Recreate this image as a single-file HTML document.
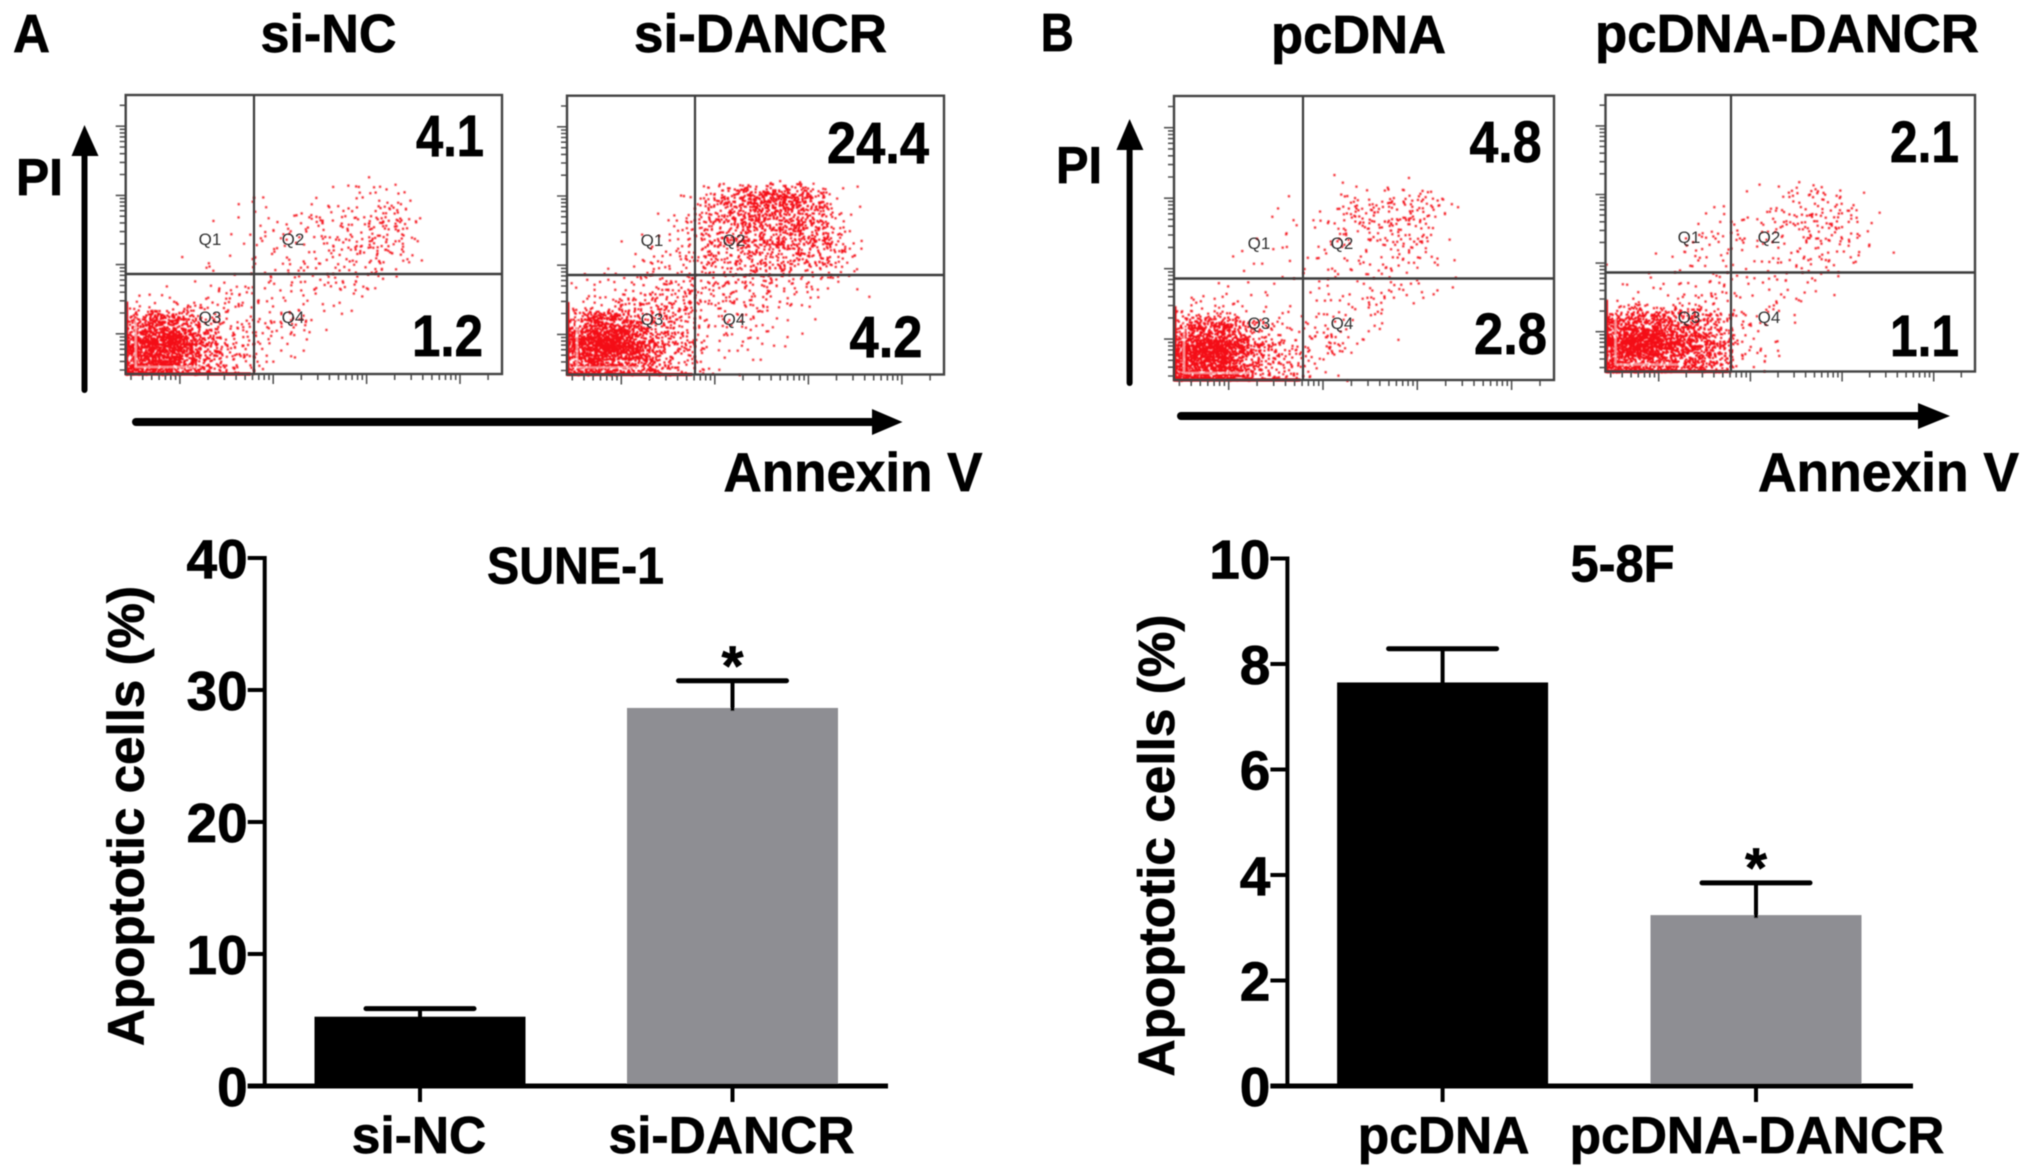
<!DOCTYPE html>
<html lang="en">
<head>
<meta charset="utf-8">
<title>Apoptosis flow cytometry and bar charts</title>
<style>
html,body{margin:0;padding:0;background:#fff;}
svg{display:block;}
text{font-family:"Liberation Sans",Arial,sans-serif;font-weight:bold;fill:#000;stroke:#000;stroke-width:0.7px;}
.q{font-weight:normal;fill:#333;stroke:none;font-size:17px;text-anchor:middle;}
</style>
</head>
<body>
<svg id="fig" xmlns="http://www.w3.org/2000/svg" width="2031" height="1175" viewBox="0 0 2031 1175">
<defs>
<filter id="soft" filterUnits="userSpaceOnUse" x="0" y="0" width="2031" height="1175"><feGaussianBlur stdDeviation="0.6"/></filter>
<filter id="softDots" filterUnits="userSpaceOnUse" x="0" y="0" width="2031" height="1175"><feGaussianBlur stdDeviation="0.8"/></filter>
</defs>
<rect width="2031" height="1175" fill="#fff"/>
<g id="dots" filter="url(#softDots)"></g>
<g id="root" filter="url(#soft)">
<g id="flowFrames"></g>
<g id="bars"></g>

<text x="13" y="52" font-size="54" textLength="37" lengthAdjust="spacingAndGlyphs">A</text>
<text x="260.5" y="52" font-size="54" textLength="136" lengthAdjust="spacingAndGlyphs">si-NC</text>
<text x="634" y="52" font-size="54" textLength="253" lengthAdjust="spacingAndGlyphs">si-DANCR</text>
<text x="16" y="195" font-size="52" textLength="47" lengthAdjust="spacingAndGlyphs">PI</text>
<text x="723.5" y="491" font-size="55" textLength="259" lengthAdjust="spacingAndGlyphs">Annexin V</text>
<text x="416" y="156" font-size="58" textLength="68" lengthAdjust="spacingAndGlyphs">4.1</text>
<text x="412" y="356" font-size="58" textLength="71" lengthAdjust="spacingAndGlyphs">1.2</text>
<text x="827" y="163" font-size="58" textLength="102" lengthAdjust="spacingAndGlyphs">24.4</text>
<text x="849.5" y="357" font-size="58" textLength="73" lengthAdjust="spacingAndGlyphs">4.2</text>

<text x="1040.8" y="51" font-size="54" textLength="33" lengthAdjust="spacingAndGlyphs">B</text>
<text x="1271" y="53" font-size="54" textLength="175" lengthAdjust="spacingAndGlyphs">pcDNA</text>
<text x="1595" y="52" font-size="54" textLength="384" lengthAdjust="spacingAndGlyphs">pcDNA-DANCR</text>
<text x="1056" y="183" font-size="52" textLength="46" lengthAdjust="spacingAndGlyphs">PI</text>
<text x="1758" y="491" font-size="55" textLength="261" lengthAdjust="spacingAndGlyphs">Annexin V</text>
<text x="1469.5" y="162" font-size="58" textLength="72" lengthAdjust="spacingAndGlyphs">4.8</text>
<text x="1474" y="354" font-size="58" textLength="73" lengthAdjust="spacingAndGlyphs">2.8</text>
<text x="1890" y="162" font-size="58" textLength="69" lengthAdjust="spacingAndGlyphs">2.1</text>
<text x="1890" y="356" font-size="58" textLength="69" lengthAdjust="spacingAndGlyphs">1.1</text>

<g><line x1="84.5" y1="390" x2="84.5" y2="150" stroke="#000" stroke-width="6" stroke-linecap="round"/><polygon points="84.5,125 71.5,156 98.5,156" fill="#000"/></g>
<g><line x1="136" y1="422" x2="876" y2="422" stroke="#000" stroke-width="8" stroke-linecap="round"/><polygon points="902.5,422 872,409 872,435" fill="#000"/></g>
<g><line x1="1129.6" y1="383" x2="1129.6" y2="145" stroke="#000" stroke-width="6" stroke-linecap="round"/><polygon points="1129.6,119 1116.4,150 1143.4,150" fill="#000"/></g>
<g><line x1="1181" y1="416" x2="1922" y2="416" stroke="#000" stroke-width="8" stroke-linecap="round"/><polygon points="1950,416 1918,403 1918,429" fill="#000"/></g>

<text x="487" y="583.6" font-size="52" textLength="177" lengthAdjust="spacingAndGlyphs">SUNE-1</text>
<text x="1570.5" y="581.5" font-size="52" textLength="104" lengthAdjust="spacingAndGlyphs">5-8F</text>
<text transform="translate(143.5,1046) rotate(-90)" font-size="51" textLength="460" lengthAdjust="spacingAndGlyphs">Apoptotic cells (%)</text>
<text transform="translate(1174,1076.5) rotate(-90)" font-size="51" textLength="462" lengthAdjust="spacingAndGlyphs">Apoptotic cells (%)</text>
</g>
</svg>
<script>
// --- Bar chart data ---
const sune1Categories = ["si-NC", "si-DANCR"];
const sune1Values = [5.25, 28.64];
const sune1ErrorTops = [5.86, 30.7];
const sune1Stars = ["", "*"];
const sune1YTicks = [0, 10, 20, 30, 40];

const f58Categories = ["pcDNA", "pcDNA-DANCR"];
const f58Values = [7.65, 3.24];
const f58ErrorTops = [8.29, 3.85];
const f58Stars = ["", "*"];
const f58YTicks = [0, 2, 4, 6, 8, 10];

// --- Flow cytometry data: estimated event counts per bin ---
// Each row is a PI bin (0.3 decade, lowest first); each column an Annexin V bin (0.2 decade).
const siNcCounts = [
  [130,170,170,90,35,25,15,3,2,0,0,0,0,0,0,0],
  [170,220,220,130,55,25,15,8,4,2,0,0,0,0,0,0],
  [60,110,110,50,18,12,12,12,10,14,1,0,0,0,0,0],
  [2,5,7,7,6,9,9,4,5,5,5,4,1,0,0,0],
  [0,0,1,1,2,5,6,4,4,6,6,7,6,5,1,0],
  [0,0,0,1,3,1,2,4,7,7,8,9,12,14,8,1],
  [0,0,0,0,0,1,3,6,8,3,12,12,13,22,18,2],
  [0,0,0,0,1,0,2,4,4,10,10,7,14,18,20,3],
  [0,0,0,0,0,0,3,1,0,2,0,1,7,6,8,0],
  [0,0,0,0,0,0,0,0,0,0,0,1,2,0,0,0]
];
const siDancrCounts = [
  [100,140,130,90,70,30,20,3,3,1,1,0,0,0,0,0],
  [170,240,240,170,70,40,25,7,5,3,2,1,1,0,0,0],
  [50,130,130,70,35,30,20,8,8,10,6,2,2,0,0,0],
  [4,8,12,20,25,28,25,15,12,14,12,6,3,2,0,0],
  [3,3,4,6,12,18,18,15,14,18,20,14,8,6,4,2],
  [0,0,1,4,8,8,12,25,25,30,32,32,30,30,18,4],
  [0,0,0,1,1,5,9,30,35,45,50,50,50,45,20,3],
  [0,0,0,0,0,3,12,30,45,65,60,60,60,40,10,1],
  [0,0,0,0,0,0,5,20,35,70,110,100,80,40,2,1],
  [0,0,0,0,0,0,0,0,0,0,0,1,0,0,0,0]
];
const pcdnaCounts = [
  [150,180,180,90,35,25,22,3,2,0,0,0,0,0,0,0],
  [180,240,250,130,50,25,15,12,16,3,0,0,0,0,0,0],
  [60,100,100,50,20,12,6,8,10,4,5,1,0,0,0,0],
  [2,10,8,6,2,2,2,3,4,5,9,5,2,0,0,0],
  [0,0,2,1,2,2,1,2,3,4,6,6,3,4,3,0],
  [0,0,0,2,2,1,3,5,4,6,7,8,8,3,1,0],
  [0,0,0,1,1,1,2,3,5,6,8,12,18,5,1,0],
  [0,0,0,0,0,2,2,4,8,14,18,20,20,12,2,0],
  [0,0,0,0,0,1,1,0,4,10,8,14,14,14,4,0],
  [0,0,0,0,0,0,0,0,2,1,0,0,1,0,0,0]
];
const pcdnaDancrCounts = [
  [140,130,120,100,70,55,35,5,3,1,0,0,0,0,0,0],
  [200,280,230,170,120,80,40,8,4,3,0,0,0,0,0,0],
  [70,100,90,70,60,45,25,8,6,3,2,0,0,0,0,0],
  [1,3,5,5,7,8,8,6,3,4,4,0,0,0,0,0],
  [1,2,2,2,3,4,4,4,4,4,6,4,3,0,0,0],
  [0,0,1,2,5,3,3,4,3,4,8,8,6,4,1,1],
  [0,0,0,0,6,8,8,7,5,8,10,14,10,6,3,0],
  [0,0,0,0,0,2,5,3,4,9,14,14,16,8,2,0],
  [0,0,0,0,0,0,0,1,1,3,10,14,8,2,0,0],
  [0,0,0,0,0,0,0,0,0,0,0,0,0,0,0,0]
];
const logTickDecades = [10, 100, 1000, 10000, 100000];
const logTickMultipliers = [1, 2, 3, 4, 5, 6, 7, 8, 9];
const quadrantLabels = ["Q1", "Q2", "Q3", "Q4"];

// --- Drawing ---
const NS = "http://www.w3.org/2000/svg";
function mk(tag, attrs, parent) {
  const el = document.createElementNS(NS, tag);
  for (const k in attrs) el.setAttribute(k, attrs[k]);
  parent.appendChild(el);
  return el;
}
const LOG_MIN = 1.42, LOG_MAX = 5.45, BIN_X = 0.2, BIN_Y = 0.3, DOT = 2.1, SPREAD = 0.85;
// Fixed (repeatable) placement of a bin's dots; only the bin counts above are data.
function scatterOffset(a, b) {
  const v = Math.sin(a * 12.9898 + b * 78.233) * 43758.5453;
  return v - Math.floor(v);
}

function drawFlow(counts, f) {
  const w = f.right - f.left, h = f.bottom - f.top;
  const xs = lv => f.left + (lv - LOG_MIN) / (LOG_MAX - LOG_MIN) * w;
  const ys = lv => f.bottom - (lv - LOG_MIN) / (LOG_MAX - LOG_MIN) * h;
  const frames = document.getElementById("flowFrames");
  const dots = document.getElementById("dots");

  counts.forEach((row, r) => row.forEach((n, c) => {
    if (!n) return;
    const x0 = xs(LOG_MIN + c * BIN_X), x1 = xs(LOG_MIN + (c + 1) * BIN_X);
    const y0 = ys(LOG_MIN + r * BIN_Y), y1 = ys(LOG_MIN + (r + 1) * BIN_Y);
    const cx = (x0 + x1) / 2, cy = (y0 + y1) / 2, cw = x1 - x0, ch = y0 - y1;
    const s = r * 17.3 + c * 5.1 + f.left * 0.01;
    let d = "";
    for (let i = 1; i <= n; i++) {
      const a = scatterOffset(i, s), b = scatterOffset(i + 0.37, s + 1.3);
      const e = scatterOffset(i + 0.71, s + 2.7), g = scatterOffset(i + 0.13, s + 4.1);
      let px = cx + (a + b - 1) * SPREAD * cw;
      let py = cy + (e + g - 1) * SPREAD * ch;
      if (px < f.left) px = 2 * f.left - px;
      if (py > f.bottom) py = 2 * f.bottom - py;
      d += "M" + px.toFixed(1) + " " + py.toFixed(1) + "h" + DOT + "v" + DOT + "h-" + DOT + "z";
    }
    const cell = mk("path", {d: d, fill: "#f40a14"}, dots);
    
    
  }));

  const pile = mk("path", {d: "M" + (f.left + 1) + " " + (f.bottom - 0.26 * h) + "v" + (0.26 * h) + "h" + (0.33 * w), fill: "none", stroke: "#f40a14", "stroke-width": 3}, dots);
  
  
  const gap = mk("path", {d: "M" + (f.left + 10) + " " + (f.bottom - 0.2 * h) + "V" + (f.bottom - 7) + "H" + (f.left + 0.2 * w), fill: "none", stroke: "#fff", "stroke-width": 1.6, "stroke-opacity": 0.65}, dots);
  
  

  let ticks = "";
  logTickDecades.forEach(dec => logTickMultipliers.forEach(m => {
    const lv = Math.log10(dec * m);
    if (lv < LOG_MIN || lv > LOG_MAX) return;
    const len = m === 1 ? 10 : 6;
    const tx = xs(lv), ty = ys(lv);
    ticks += "M" + tx.toFixed(1) + " " + f.bottom + "v" + len;
    ticks += "M" + f.left + " " + ty.toFixed(1) + "h-" + len;
  }));
  const tickPath = mk("path", {d: ticks, stroke: "#555", "stroke-width": 1.6, fill: "none"}, frames);
  
  

  const box = mk("rect", {x: f.left, y: f.top, width: w, height: h, fill: "none", stroke: "#444", "stroke-width": 2.4}, frames);
  
  
  const vGate = mk("line", {x1: f.vline, x2: f.vline, y1: f.top, y2: f.bottom, stroke: "#3c3c3c", "stroke-width": 2.2}, frames);
  
  
  const hGate = mk("line", {x1: f.left, x2: f.right, y1: f.hline, y2: f.hline, stroke: "#3c3c3c", "stroke-width": 2.4}, frames);
  
  

  quadrantLabels.forEach((q, i) => {
    const t = mk("text", {x: i % 2 ? f.qx2 : f.qx1, y: i < 2 ? f.qy1 : f.qy2, class: "q"}, frames);
    t.textContent = q;
    
    
  });
}

drawFlow(siNcCounts, {left: 125.7, right: 502, top: 95, bottom: 374, vline: 254, hline: 274, qx1: 210, qx2: 293, qy1: 245, qy2: 323});
drawFlow(siDancrCounts, {left: 567, right: 944, top: 95.7, bottom: 374.5, vline: 695, hline: 275, qx1: 652, qx2: 734, qy1: 246, qy2: 325});
drawFlow(pcdnaCounts, {left: 1174, right: 1554, top: 96, bottom: 380, vline: 1303, hline: 278.5, qx1: 1259, qx2: 1342, qy1: 249, qy2: 329});
drawFlow(pcdnaDancrCounts, {left: 1605.5, right: 1975, top: 95, bottom: 371.5, vline: 1731, hline: 272.5, qx1: 1689, qx2: 1769, qy1: 243, qy2: 323});

function drawBars(cats, vals, tops, stars, yTicks, g) {
  const layer = document.getElementById("bars");
  const yMax = yTicks[yTicks.length - 1];
  const ys = v => g.y0 - v / yMax * (g.y0 - g.yTop);
  const fills = ["#000000", "#8e8e93"];

  cats.forEach((cat, i) => {
    const cx = g.c0 + i * g.step;
    const bar = mk("rect", {x: cx - g.bw / 2, y: ys(vals[i]), width: g.bw, height: g.y0 - ys(vals[i]), fill: fills[i]}, layer);
    
    
    const stem = mk("line", {x1: cx, x2: cx, y1: ys(tops[i]), y2: ys(vals[i]) + 3, stroke: "#000", "stroke-width": 4}, layer);
    
    
    const cap = mk("line", {x1: cx - 54, x2: cx + 54, y1: ys(tops[i]), y2: ys(tops[i]), stroke: "#000", "stroke-width": 5, "stroke-linecap": "round"}, layer);
    
    
    const tick = mk("line", {x1: cx, x2: cx, y1: g.y0, y2: g.y0 + 16, stroke: "#000", "stroke-width": 4}, layer);
    
    
    const lab = mk("text", {x: cx + g.labelShift, y: 1153, "text-anchor": "middle", "font-size": 51.5}, layer);
    lab.textContent = cat;
    
    
    if (stars[i]) {
      const s = mk("text", {x: cx, y: ys(tops[i]) + 4, "text-anchor": "middle", "font-size": 56}, layer);
      s.textContent = stars[i];
      
      
    }
  });

  yTicks.forEach(v => {
    const tick = mk("line", {x1: g.axisX - 17, x2: g.axisX, y1: ys(v), y2: ys(v), stroke: "#000", "stroke-width": 4}, layer);
    
    
    const lab = mk("text", {x: g.axisX - 17, y: ys(v) + 20, "text-anchor": "end", "font-size": 55}, layer);
    lab.textContent = String(v);
    
    
  });

  const yAxis = mk("line", {x1: g.axisX, x2: g.axisX, y1: g.yTop - 2, y2: g.y0 + 2, stroke: "#000", "stroke-width": 4}, layer);
  
  
  const xAxis = mk("line", {x1: g.axisX - 17, x2: g.axisRight, y1: g.y0, y2: g.y0, stroke: "#000", "stroke-width": 5}, layer);
  
  
}

drawBars(sune1Categories, sune1Values, sune1ErrorTops, sune1Stars, sune1YTicks,
  {axisX: 264.7, axisRight: 888, y0: 1086, yTop: 558, c0: 420, step: 312.5, bw: 211, labelShift: -1});
drawBars(f58Categories, f58Values, f58ErrorTops, f58Stars, f58YTicks,
  {axisX: 1287.4, axisRight: 1913, y0: 1086, yTop: 558.5, c0: 1442.6, step: 313.4, bw: 211, labelShift: 1});
</script>
</body>
</html>
